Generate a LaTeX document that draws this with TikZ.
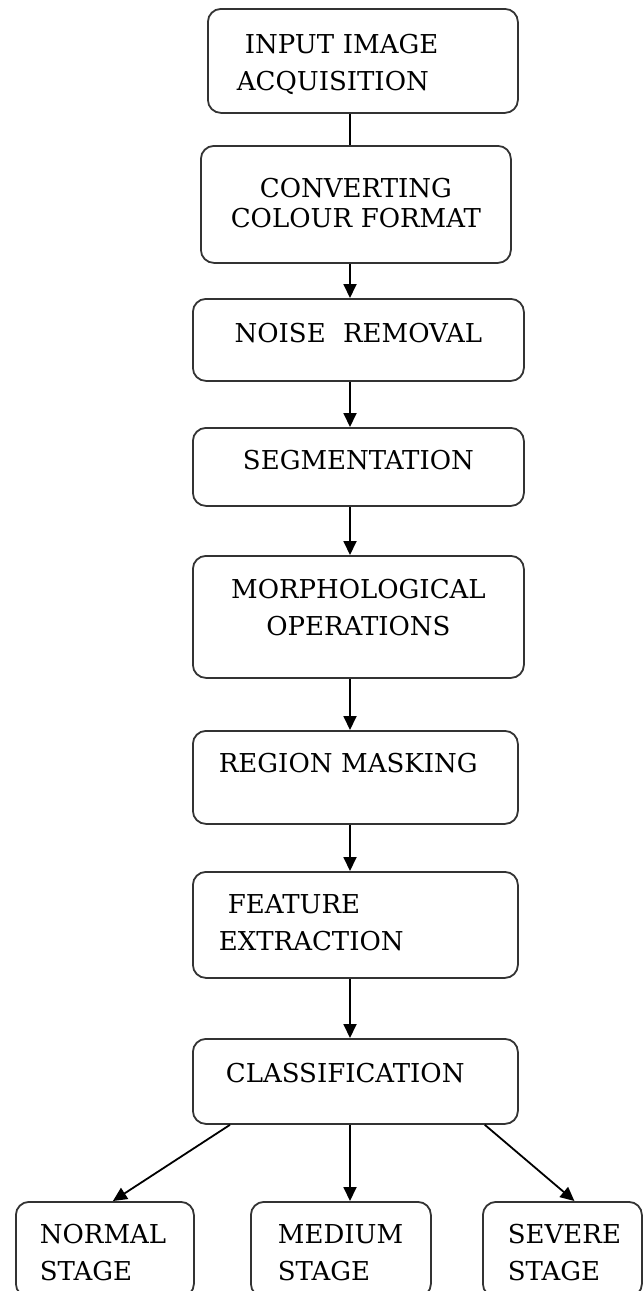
\documentclass[tikz,border=0pt]{standalone}
\usepackage{fontspec}
\setmainfont{DejaVu Serif}
\usepackage{tikz}
\usetikzlibrary{arrows.meta}
\definecolor{boxgray}{HTML}{333333}

\begin{document}
\begin{tikzpicture}[x=0.5pt, y=-0.5pt, >={Triangle[width=6.5pt,length=7pt]},
    stepbox/.style={draw=boxgray, line width=0.9pt, rounded corners=6.5pt,
      anchor=north west, inner ysep=0pt, inner xsep=10pt, align=center,
      font=\fontsize{13}{18.5}\selectfont},
    flow/.style={->, line width=0.9pt}]
  \clip (0,0) rectangle (643,1291);
  \coordinate (spine) at (350,0);
  \node[stepbox, align=left, inner xsep=14.5pt, text width=126pt, text height=22.5pt, text depth=29.5pt] (input) at (207,8) {\hspace*{4pt}INPUT IMAGE\\ACQUISITION};
  \node[stepbox, text width=135pt, text height=26pt, text depth=32.5pt, font=\fontsize{13}{15}\selectfont] (conv) at (200,145) {CONVERTING\\COLOUR FORMAT};
  \node[stepbox, text width=145.5pt, text height=22pt, text depth=19pt] (noise) at (192,298) {NOISE\ \ REMOVAL};
  \node[stepbox, text width=145.5pt, text height=21pt, text depth=18pt] (segm) at (192,427) {SEGMENTATION};
  \node[stepbox, text width=145.5pt, text height=21.5pt, text depth=39.5pt] (morph) at (192,555) {MORPHOLOGICAL\\OPERATIONS};
  \node[stepbox, align=left, inner xsep=13pt, text width=136.5pt, text height=21pt, text depth=25.5pt] (mask) at (192,730) {REGION MASKING};
  \node[stepbox, align=left, inner xsep=13pt, text width=136.5pt, text height=21pt, text depth=32pt] (feat) at (192,871) {\hspace*{4.5pt}FEATURE\\EXTRACTION};
  \node[stepbox, align=left, inner xsep=16.5pt, text width=129.5pt, text height=22pt, text depth=20.5pt] (cls) at (192,1038) {CLASSIFICATION};
  % output stages
  \node[stepbox, align=left, inner xsep=12pt, text width=65pt, text height=21pt, text depth=26.5pt] (normal) at (15,1201) {NORMAL\\STAGE};
  \node[stepbox, align=left, inner xsep=13.5pt, text width=63pt, text height=21pt, text depth=26.5pt] (medium) at (250,1201) {MEDIUM\\STAGE};
  \node[stepbox, align=left, inner xsep=12.5pt, text width=54.5pt, text height=21pt, text depth=26.5pt] (severe) at (482,1201) {SEVERE\\STAGE};

  \draw[line width=0.9pt] (input.south -| spine) -- (conv.north -| spine);
  \draw[flow] (conv.south -| spine) -- (noise.north -| spine);
  \draw[flow] (noise.south -| spine) -- (segm.north -| spine);
  \draw[flow] (segm.south -| spine) -- (morph.north -| spine);
  \draw[flow] (morph.south -| spine) -- (mask.north -| spine);
  \draw[flow] (mask.south -| spine) -- (feat.north -| spine);
  \draw[flow] (feat.south -| spine) -- (cls.north -| spine);
  \draw[flow] ([xshift=19pt]cls.south west) -- ([xshift=4pt]normal.north);
  \draw[flow] (cls.south -| spine) -- (medium.north -| spine);
  \draw[flow] ([xshift=-17pt]cls.south east) -- ([xshift=6pt]severe.north);
\end{tikzpicture}
\end{document}
